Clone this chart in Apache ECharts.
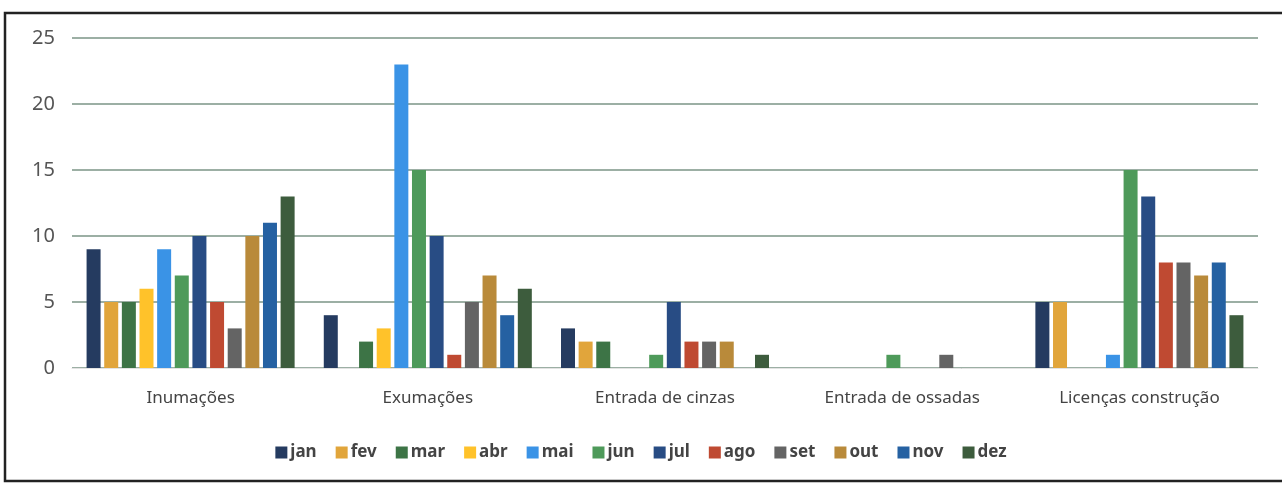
<!DOCTYPE html>
<html><head><meta charset="utf-8">
<script src="https://cdn.jsdelivr.net/npm/echarts@6/dist/echarts.min.js"></script>
<style>html,body{margin:0;padding:0;background:#fff}#c{width:1282px;height:484px}</style>
</head><body><div id="c"></div>
<script>
const categories = ['Inumações','Exumações','Entrada de cinzas','Entrada de ossadas','Licenças construção'];
const months = ['jan','fev','mar','abr','mai','jun','jul','ago','set','out','nov','dez'];
const jan = [9, 4, 3, 0, 5];
const fev = [5, 0, 2, 0, 5];
const mar = [5, 2, 2, 0, 0];
const abr = [6, 3, 0, 0, 0];
const mai = [9, 23, 0, 0, 1];
const jun = [7, 15, 1, 1, 15];
const jul = [10, 10, 5, 0, 13];
const ago = [5, 1, 2, 0, 8];
const set = [3, 5, 2, 1, 8];
const out = [10, 7, 2, 0, 7];
const nov = [11, 4, 0, 0, 8];
const dez = [13, 6, 1, 0, 4];
const yTicks = [0, 5, 10, 15, 20, 25];
const colors = ['#253B60','#E1A53B','#3D7446','#FFC22A','#3A93E6','#4E9A5A','#284C84','#BF4A32','#646464','#B98A3A','#2561A2','#3D5C3D'];
const values = [jan,fev,mar,abr,mai,jun,jul,ago,set,out,nov,dez];
const font = "'Noto Sans', sans-serif";
const chart = echarts.init(document.getElementById('c'), null, {renderer:'canvas'});
chart.setOption({
  animation:false,
  color: colors,
  graphic:[{type:'rect', shape:{x:5,y:13,width:1290,height:468}, style:{fill:'none', stroke:'#222', lineWidth:2.5}, silent:true}],
  grid:{left:72, right:24, top:38, bottom:116, containLabel:false},
  legend:{top:439, left:'center', itemWidth:12, itemHeight:12, itemGap:19,
    icon:'rect',
    textStyle:{fontFamily:font, fontSize:17, fontWeight:'bold', color:'#444', padding:[0,0,0,-2]},
    data: months},
  xAxis:{type:'category', data:categories,
    axisLine:{show:true, lineStyle:{color:'#e3e3e3'}}, axisTick:{show:false},
    axisLabel:{fontFamily:font, fontSize:17, color:'#444', margin:22}},
  yAxis:{type:'value', min:yTicks[0], max:yTicks[yTicks.length-1], interval:5,
    axisLabel:{fontFamily:font, fontSize:20, color:'#555', margin:17},
    splitLine:{lineStyle:{color:'#7b9486', width:1.5}},
    axisLine:{show:false}, axisTick:{show:false}},
  series: months.map((m,i)=>({name:m, type:'bar', data:values[i], barWidth:14, barGap:'26%', barCategoryGap:'12%',
    itemStyle:{color:colors[i]}}))
});
</script></body></html>
